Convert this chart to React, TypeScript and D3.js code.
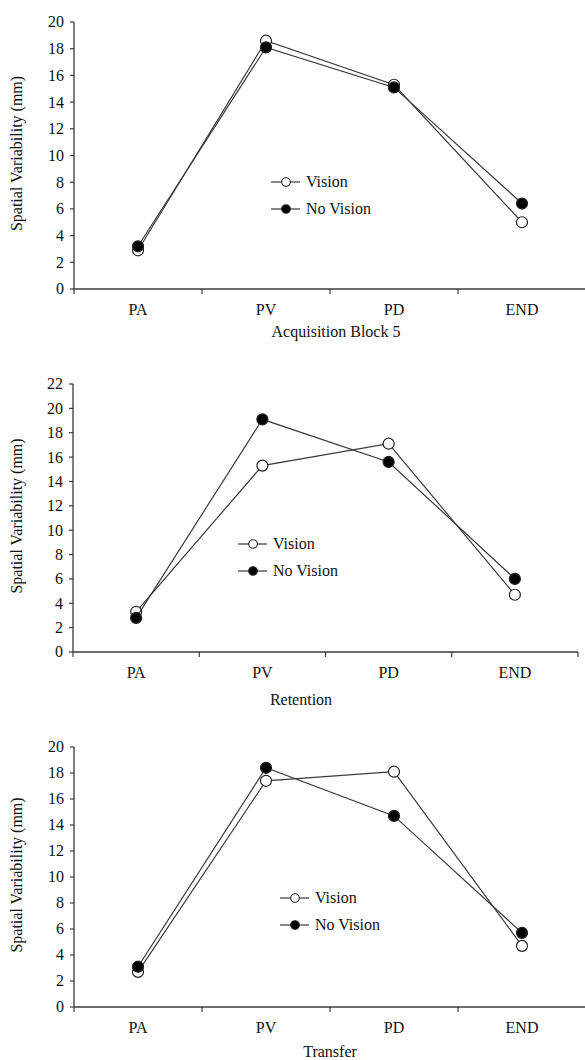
import React from 'react';
import * as d3 from 'd3';

const categories = ['PA', 'PV', 'PD', 'END'];
const seriesNames = ['Vision', 'No Vision'];

const acqVision = [2.9, 18.6, 15.3, 5.0];
const acqNoVision = [3.2, 18.1, 15.1, 6.4];
const retVision = [3.3, 15.3, 17.1, 4.7];
const retNoVision = [2.8, 19.1, 15.6, 6.0];
const traVision = [2.7, 17.4, 18.1, 4.7];
const traNoVision = [3.1, 18.4, 14.7, 5.7];

const acqTicks = [0, 2, 4, 6, 8, 10, 12, 14, 16, 18, 20];
const retTicks = [0, 2, 4, 6, 8, 10, 12, 14, 16, 18, 20, 22];
const traTicks = [0, 2, 4, 6, 8, 10, 12, 14, 16, 18, 20];

// Liberation Serif is only picked up to 16px in this browser, bigger falls back to sans
const FONT = "'Liberation Serif', serif";
const FS = 16;
const INK = '#3a3a3a';

// layout of each panel, in page pixels
const panels = [
  {
    title: 'Acquisition Block 5', vision: acqVision, noVision: acqNoVision, ticks: acqTicks,
    x0: 74, x1: 586, yTop: 22, yBot: 289, titleX: 336, titleY: 337,
    legX: 286, legY: 182,
  },
  {
    title: 'Retention', vision: retVision, noVision: retNoVision, ticks: retTicks,
    x0: 73, x1: 578, yTop: 384, yBot: 652, titleX: 301, titleY: 705,
    legX: 253, legY: 544,
  },
  {
    title: 'Transfer', vision: traVision, noVision: traNoVision, ticks: traTicks,
    x0: 74, x1: 586, yTop: 747, yBot: 1007, titleX: 330, titleY: 1057,
    legX: 295, legY: 898,
  },
];

const txt = { fontFamily: FONT, fill: '#111' };
const mid = FS * 0.34; // baseline shift to centre text on a point

function Panel({ p }: { p: typeof panels[number] }) {
  const x = d3.scaleBand().domain(categories).range([p.x0, p.x1]);
  const y = d3
    .scaleLinear()
    .domain([0, d3.max(p.ticks) as number])
    .range([p.yBot, p.yTop]);
  const cx = (c: string) => (x(c) as number) + x.bandwidth() / 2;
  const line = d3
    .line<number>()
    .x((_, i) => cx(categories[i]))
    .y((d) => y(d));
  const bounds = categories.map((c) => x(c) as number).concat([p.x1]);
  const series = [
    { name: seriesNames[0], values: p.vision, fill: '#fff' },
    { name: seriesNames[1], values: p.noVision, fill: '#000' },
  ];

  return (
    <g>
      {/* y axis */}
      <line x1={p.x0} x2={p.x0} y1={p.yTop} y2={p.yBot} stroke={INK} strokeWidth={1.3} />
      {p.ticks.map((t) => (
        <g key={t}>
          <line x1={p.x0 - 4} x2={p.x0} y1={y(t)} y2={y(t)} stroke={INK} strokeWidth={1.2} />
          <text x={p.x0 - 10} y={y(t) + mid} textAnchor="end" fontSize={FS} style={txt}>
            {t}
          </text>
        </g>
      ))}
      <text
        transform={`translate(22,${(p.yTop + p.yBot) / 2 - 2}) rotate(-90)`}
        textAnchor="middle"
        fontSize={FS}
        style={txt}
      >
        Spatial Variability (mm)
      </text>

      {/* x axis */}
      <line x1={p.x0} x2={p.x1} y1={p.yBot} y2={p.yBot} stroke={INK} strokeWidth={1.6} />
      {bounds.map((b, i) => (
        <line key={i} x1={b} x2={b} y1={p.yBot} y2={p.yBot + 5} stroke={INK} strokeWidth={1.2} />
      ))}
      {categories.map((c) => (
        <text key={c} x={cx(c)} y={p.yBot + 26} textAnchor="middle" fontSize={FS} style={txt}>
          {c}
        </text>
      ))}
      <text x={p.titleX} y={p.titleY} textAnchor="middle" fontSize={FS} style={txt}>
        {p.title}
      </text>

      {/* series */}
      {series.map((s) => (
        <g key={s.name}>
          <path d={line(s.values) || ''} fill="none" stroke={INK} strokeWidth={1.2} />
          {s.values.map((v, i) => (
            <circle
              key={i}
              cx={cx(categories[i])}
              cy={y(v)}
              r={5.5}
              fill={s.fill}
              stroke="#222"
              strokeWidth={1.2}
            />
          ))}
        </g>
      ))}

      {/* legend */}
      {series.map((s, i) => {
        const ly = p.legY + i * 27;
        return (
          <g key={s.name}>
            <line x1={p.legX - 15} x2={p.legX + 14} y1={ly} y2={ly} stroke={INK} strokeWidth={1.2} />
            <circle cx={p.legX} cy={ly} r={4.3} fill={s.fill} stroke="#222" strokeWidth={1.1} />
            <text x={p.legX + 20} y={ly + mid} fontSize={FS} style={txt}>
              {s.name}
            </text>
          </g>
        );
      })}
    </g>
  );
}

export default function App() {
  return (
    <svg
      width={585}
      height={1060}
      style={{ position: 'absolute', left: 0, top: 0, background: '#fff' }}
    >
      <rect width={585} height={1060} fill="#fff" />
      {panels.map((p) => (
        <Panel key={p.title} p={p} />
      ))}
    </svg>
  );
}
